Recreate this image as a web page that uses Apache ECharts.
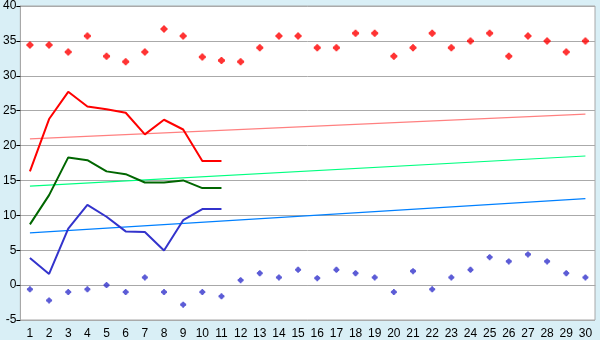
<!DOCTYPE html>
<html>
<head>
<meta charset="utf-8">
<style>
html,body{margin:0;padding:0;background:#d9eff6;}
#c{width:600px;height:340px;}
</style>
<script src="https://cdn.jsdelivr.net/npm/echarts@6/dist/echarts.min.js"></script>
</head>
<body>
<div id="c"></div>
<script>
var categories = ['1','2','3','4','5','6','7','8','9','10','11','12','13','14','15','16','17','18','19','20','21','22','23','24','25','26','27','28','29','30'];
var highPoints = [34.4,34.4,33.4,35.7,32.8,32.0,33.4,36.7,35.7,32.7,32.2,32.0,34.0,35.7,35.7,34.0,34.0,36.1,36.1,32.8,34.0,36.1,34.0,35.0,36.1,32.8,35.7,35.0,33.4,35.0];
var lowPoints = [-0.6,-2.2,-1.0,-0.6,0.0,-1.0,1.1,-1.0,-2.8,-1.0,-1.6,0.7,1.7,1.1,2.2,1.0,2.2,1.7,1.1,-1.0,2.0,-0.6,1.1,2.2,4.0,3.4,4.4,3.4,1.7,1.1];
var redLine = [16.3,23.8,27.7,25.6,25.2,24.7,21.6,23.7,22.3,17.8,17.8];
var greenLine = [8.7,12.9,18.3,17.9,16.3,15.9,14.7,14.7,15.0,13.9,13.9];
var blueLine = [3.9,1.6,8.1,11.5,9.8,7.7,7.6,4.95,9.3,10.9,10.9];
var redTrendEnds = [20.95, 24.5];
var greenTrendEnds = [14.2, 18.5];
var blueTrendEnds = [7.5, 12.4];
var yTicks = {min:-5, max:40, interval:5};

function trend(ends){
  var a = categories.map(function(){return null;});
  a[0] = ends[0]; a[a.length-1] = ends[1];
  return a;
}
var marker = 'path://M2.5,0 L4.5,0 L4.5,1 L5.5,1 L5.5,2 L6.5,2 L6.5,2.5 L7,2.5 L7,4.5 L6.5,4.5 L6.5,5 L5.5,5 L5.5,6 L4.5,6 L4.5,7 L2.5,7 L2.5,6 L1.5,6 L1.5,5 L0.5,5 L0.5,4.5 L0,4.5 L0,2.5 L0.5,2.5 L0.5,2 L1.5,2 L1.5,1 L2.5,1 Z';

var chart = echarts.init(document.getElementById('c'), null, {renderer:'canvas'});
chart.setOption({
  animation:false,
  backgroundColor:'#d9eff6',
  textStyle:{fontFamily:'Liberation Sans'},
  grid:{left:20,right:5,top:5,bottom:20,show:true,backgroundColor:'#ffffff',borderColor:'#a8a8a8',borderWidth:1},
  xAxis:{
    type:'category',data:categories,boundaryGap:true,
    axisLine:{lineStyle:{color:'#a8a8a8',width:1}},
    axisTick:{alignWithLabel:true,length:5,lineStyle:{color:'#000'}},
    axisLabel:{interval:0,color:'#000',fontSize:12,margin:8,fontFamily:'Liberation Sans'},
    splitLine:{show:false}
  },
  yAxis:{
    type:'value',min:yTicks.min,max:yTicks.max,interval:yTicks.interval,
    axisLine:{show:true,lineStyle:{color:'#a8a8a8',width:1}},
    axisTick:{show:true,length:4,lineStyle:{color:'#000'}},
    axisLabel:{color:'#000',fontSize:12,margin:4,fontFamily:'Liberation Sans'},
    splitLine:{show:true,lineStyle:{color:'#aaaaaa',width:1}}
  },
  series:[
    {type:'line',data:trend(redTrendEnds),connectNulls:true,symbol:'none',lineStyle:{color:'#ff8080',width:1.2},z:2},
    {type:'line',data:trend(greenTrendEnds),connectNulls:true,symbol:'none',lineStyle:{color:'#00ff80',width:1.2},z:2},
    {type:'line',data:trend(blueTrendEnds),connectNulls:true,symbol:'none',lineStyle:{color:'#0080ff',width:1.2},z:2},
    {type:'line',data:redLine,symbol:'none',lineStyle:{color:'#ff0000',width:2},z:3},
    {type:'line',data:greenLine,symbol:'none',lineStyle:{color:'#006600',width:2},z:3},
    {type:'line',data:blueLine,symbol:'none',lineStyle:{color:'#3333cc',width:2},z:3},
    {type:'scatter',data:highPoints,symbol:marker,symbolSize:7,itemStyle:{color:'#ff0000'},z:4},
    {type:'scatter',data:lowPoints,symbol:marker,symbolSize:6,itemStyle:{color:'#3333cc'},z:4}
  ]
});
</script>
</body>
</html>
